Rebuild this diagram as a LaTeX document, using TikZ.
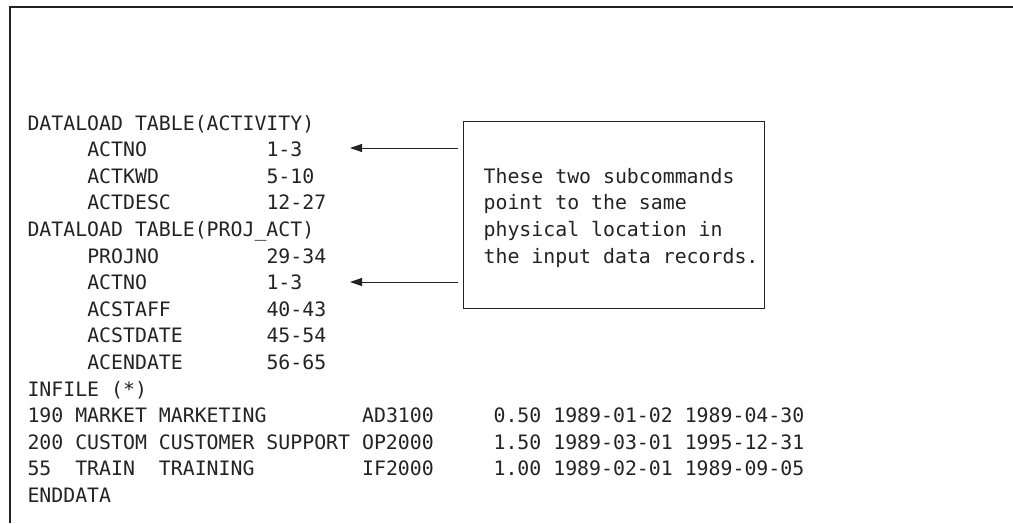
\documentclass[tikz,border=0pt]{standalone}
\usepackage{fontspec}
\setmonofont{DejaVu Sans Mono}
\usetikzlibrary{arrows.meta}
\definecolor{ink}{RGB}{35,35,35}
\begin{document}
\begin{tikzpicture}[x=1pt,y=-1pt,
  txt/.style={anchor=base west, inner sep=0pt, text=ink,
    font=\ttfamily\fontsize{19.85}{22}\selectfont},
  frameline/.style={draw=ink, line width=1.5pt},
  calloutbox/.style={draw=ink, line width=1pt, inner sep=0pt,
    minimum width=301pt, minimum height=187pt, anchor=north west},
  arr/.style={draw=ink, line width=0.9pt, -{Triangle[length=12pt,width=8pt]}, shorten <=5pt}]
\useasboundingbox (0,0) rectangle (1013,523);
\draw[frameline] (1013,7) -- (10,7) -- (10,523);
% main listing
\def\lx{27.3}
\node[txt] (l0)  at (\lx,130.0) {DATALOAD TABLE(ACTIVITY)};
\node[txt] (l1)  at (\lx,156.6) {~~~~~ACTNO~~~~~~~~~~1-3};
\node[txt] (l2)  at (\lx,183.2) {~~~~~ACTKWD~~~~~~~~~5-10};
\node[txt] (l3)  at (\lx,209.8) {~~~~~ACTDESC~~~~~~~~12-27};
\node[txt] (l4)  at (\lx,236.4) {DATALOAD TABLE(PROJ\_ACT)};
\node[txt] (l5)  at (\lx,263.0) {~~~~~PROJNO~~~~~~~~~29-34};
\node[txt] (l6)  at (\lx,289.6) {~~~~~ACTNO~~~~~~~~~~1-3};
\node[txt] (l7)  at (\lx,316.2) {~~~~~ACSTAFF~~~~~~~~40-43};
\node[txt] (l8)  at (\lx,342.8) {~~~~~ACSTDATE~~~~~~~45-54};
\node[txt] (l9)  at (\lx,369.4) {~~~~~ACENDATE~~~~~~~56-65};
\node[txt] (l10) at (\lx,396.0) {INFILE (*)};
\node[txt] (l11) at (\lx,422.6) {190 MARKET MARKETING~~~~~~~~AD3100~~~~~0.50 1989-01-02 1989-04-30};
\node[txt] (l12) at (\lx,449.2) {200 CUSTOM CUSTOMER SUPPORT OP2000~~~~~1.50 1989-03-01 1995-12-31};
\node[txt] (l13) at (\lx,475.8) {55~~TRAIN~~TRAINING~~~~~~~~~IF2000~~~~~1.00 1989-02-01 1989-09-05};
\node[txt] (l14) at (\lx,502.4) {ENDDATA};
% callout
\node[calloutbox] (callout) at (463,121) {};
\def\cx{483.4}
\node[txt] (c1) at (\cx,183.2) {These two subcommands};
\node[txt] (c2) at (\cx,209.8) {point to the same};
\node[txt] (c3) at (\cx,236.4) {physical location in};
\node[txt] (c4) at (\cx,263.0) {the input data records.};
% arrows
\coordinate (t1) at (350,148);
\coordinate (t2) at (350,282);
\draw[arr] (callout.west |- t1) -- (t1);
\draw[arr] (callout.west |- t2) -- (t2);
\end{tikzpicture}
\end{document}
